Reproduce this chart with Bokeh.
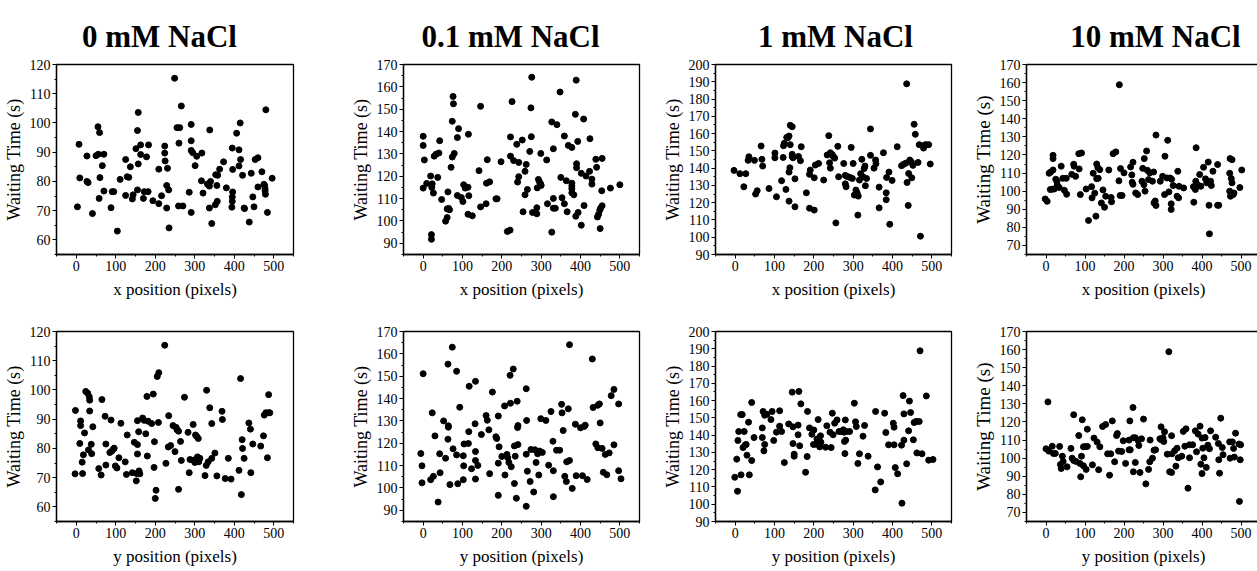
from bokeh.plotting import figure
from bokeh.layouts import column, row
from bokeh.models import Range1d, SingleIntervalTicker
from bokeh.embed import file_html
from bokeh.resources import INLINE
from bokeh.core.properties import value

titles = ["0 mM NaCl", "0.1 mM NaCl", "1 mM NaCl", "10 mM NaCl"]
y_title = "Waiting Time (s)"
x_titles = ["x position (pixels)", "y position (pixels)"]
y_limits = [(55, 120), (85, 170), (90, 200), (65, 170)]
x_limits = (-50, 550)

# ---- 0 mM NaCl, x position
x0_pos = [3, 7, 9, 27, 27, 30, 41, 55, 59, 50,
          56, 60, 58, 66, 70, 70, 88, 91, 95, 104,
          111, 125, 125, 129, 133, 137, 142, 144, 151, 155,
          157, 157, 155, 163, 163, 170, 172, 178, 182, 183,
          194, 209, 209, 216, 224, 224, 225, 229, 229, 231,
          234, 235, 249, 255, 262, 260, 259, 266, 270, 286,
          291, 291, 291, 295, 291, 301, 305, 317, 318, 321,
          332, 337, 337, 338, 340, 343, 352, 353, 357, 356,
          358, 363, 373, 380, 395, 396, 396, 395, 395, 394,
          406, 412, 412, 415, 416, 421, 425, 426, 438, 443,
          447, 450, 453, 460, 460, 470, 475, 477, 478, 478,
          479, 480, 484, 496]
x0_wait = [71.3, 92.7, 81.2, 88.7, 80.0, 79.6, 69, 98.7, 96.7, 88.8,
           89.3, 81.3, 74.2, 85.4, 89.3, 76.7, 71, 76.5, 76.5, 63,
           80.7, 87.5, 75.2, 81.6, 81.4, 85, 74, 75.4, 91.2, 97.4,
           103.6, 86, 77.1, 92.5, 89.2, 74.2, 76.5, 88.4, 76.5, 92.5,
           73.4, 84.2, 72.4, 75.1, 92.1, 89.7, 87, 78.6, 70.9, 84.5,
           77.1, 64.1, 115.3, 98.4, 98.4, 93.1, 71.6, 105.8, 71.6, 76.3,
           99.5, 93.9, 90.6, 89.8, 69.4, 85.4, 88.6, 80.2, 89.7, 76,
           79.1, 78.4, 70.9, 97.6, 80, 65.6, 72, 82.3, 73.2, 78.6,
           82.1, 84.2, 86.7, 77.8, 91.4, 84.1, 76.4, 74.7, 73.2, 71.2,
           96.5, 90.8, 85.3, 100, 87.5, 82.1, 70.9, 70.7, 66.1, 82.8,
           74.7, 71.3, 87.5, 88.1, 78.1, 83.3, 79, 78.6, 77.5, 76.8,
           75.6, 104.5, 69.4, 81.1]

# ---- 0.1 mM NaCl, x position
x01_pos = [0, 0, 3, 0, 9, 19, 22, 23, 26, 21,
           21, 28, 33, 40, 37, 42, 47, 61, 57, 61,
           63, 65, 67, 71, 74, 76, 77, 74, 79, 87,
           87, 90, 97, 101, 103, 107, 115, 114, 116, 114,
           125, 142, 146, 146, 160, 163, 161, 169, 185, 188,
           198, 214, 221, 222, 222, 226, 230, 238, 240, 243,
           243, 252, 254, 259, 259, 262, 265, 271, 274, 275,
           276, 278, 289, 289, 290, 293, 296, 299, 299, 300,
           314, 316, 327, 327, 331, 331, 331, 336, 340, 348,
           350, 353, 359, 359, 364, 366, 369, 378, 378, 378,
           378, 378, 383, 387, 389, 390, 390, 393, 388, 394,
           402, 402, 408, 409, 414, 423, 424, 429, 429, 439,
           441, 443, 446, 449, 451, 455, 450, 454, 455, 476,
           500]
x01_wait = [137.9, 133.8, 127.3, 114.7, 116.8, 120.1, 115, 116.6, 112.5, 93.9,
            91.8, 129, 129.9, 130.4, 119.5, 135.9, 109.6, 105.4, 99.9, 101.5,
            113, 105.6, 105, 124, 128.6, 155.7, 152.4, 144.6, 130.2, 111.4,
            137.3, 141.3, 110.5, 108.7, 116.2, 114.7, 138.8, 115.1, 111.3, 103,
            102.3, 122.5, 151.3, 106.3, 107.7, 127.4, 116.9, 117.5, 109.9, 109.9,
            126.5, 95.3, 95.9, 137.6, 129, 153.4, 127, 134.3, 117.4, 119.8,
            126.2, 136.2, 104.1, 122.2, 111.7, 125.3, 114.1, 131.1, 150.6, 137.7,
            164.3, 103.8, 103.2, 105.9, 114.8, 118.6, 117.4, 130.2, 116.5, 115.9,
            127.3, 107.7, 144.3, 95, 132.3, 110.1, 105.7, 105.7, 143.1, 157.7,
            119.5, 110.4, 138, 107.7, 118, 104.1, 133.8, 132.9, 116.9, 115.6,
            114.4, 112.6, 111.7, 147.7, 163, 125.6, 123.8, 135.6, 102.1, 103.8,
            98.1, 121.3, 145.6, 106.9, 120.1, 122.2, 136.8, 118.7, 116.5, 127.6,
            124, 101.8, 103, 104.8, 105.7, 106.8, 96.6, 113.5, 128, 114.7,
            116.2]

# ---- 1 mM NaCl, x position
x1_pos = [-3, 12, 27, 22, 33, 35, 49, 52, 56, 66,
          68, 70, 86, 101, 101, 105, 118, 122, 123, 125,
          129, 131, 134, 137, 137, 139, 137, 140, 140, 145,
          145, 145, 147, 152, 152, 161, 166, 168, 181, 189,
          191, 189, 201, 201, 204, 212, 225, 234, 238, 240,
          242, 242, 247, 250, 253, 256, 261, 263, 276, 280,
          280, 282, 285, 292, 295, 298, 300, 303, 307, 310,
          313, 312, 316, 319, 322, 325, 328, 330, 331, 334,
          344, 344, 353, 357, 358, 366, 366, 377, 384, 384,
          385, 391, 393, 399, 412, 423, 428, 434, 436, 437,
          441, 440, 444, 448, 449, 452, 455, 458, 465, 468,
          471, 479, 482, 485, 492, 496]
x1_wait = [138.7, 136.8, 136.8, 129.2, 144.5, 146.6, 144.5, 125, 126.9, 152.8,
           145.1, 141.2, 128.2, 148.7, 146, 123.4, 132.7, 146.2, 153, 154.4,
           127.7, 157.8, 157.6, 158.6, 137.7, 140.2, 120.9, 153.6, 164.8, 164,
           148, 146.6, 146, 133.8, 117.6, 146.8, 144.3, 152.4, 125.7, 136.4,
           138.9, 116.8, 134.4, 115.7, 141.8, 142.7, 133.1, 147.6, 158.8, 143.1,
           140, 148.9, 147.8, 146.6, 145.8, 108.3, 152.6, 135, 142.7, 135.8,
           130.9, 129.2, 135.2, 134.6, 152, 134, 142.7, 124.4, 127.3, 125.7,
           123.8, 112.8, 133.1, 136.8, 145.1, 135, 139.8, 141.2, 129.8, 134,
           162.7, 147.4, 140, 144.7, 142.6, 129, 117, 148.9, 125.7, 121.7,
           134.6, 137.7, 107.5, 132.9, 152.4, 141.4, 142.2, 142.9, 188.8, 131.7,
           136.9, 118.4, 144.7, 143.5, 134.4, 141.6, 165.4, 159.6, 143.3, 153.6,
           100.6, 151.6, 153.4, 153.6, 153.6, 142.4]

# ---- 10 mM NaCl, x position
x10_pos = [-2, 3, 8, 12, 18, 11, 16, 18, 18, 21,
           25, 28, 29, 34, 39, 43, 47, 52, 53, 66,
           71, 72, 76, 84, 91, 85, 88, 103, 109, 117,
           118, 121, 125, 128, 130, 130, 133, 134, 138, 142,
           146, 150, 153, 161, 167, 168, 172, 179, 187, 188,
           191, 190, 195, 200, 217, 220, 223, 221, 223, 230,
           235, 246, 248, 252, 251, 254, 258, 260, 263, 266,
           273, 276, 277, 280, 282, 282, 293, 299, 305, 304,
           310, 312, 315, 318, 322, 321, 321, 326, 338, 336,
           340, 341, 353, 378, 379, 384, 383, 385, 389, 394,
           397, 404, 409, 412, 416, 418, 419, 422, 424, 428,
           440, 440, 443, 472, 477, 471, 471, 473, 475, 477,
           480, 482, 497, 502]
x10_wait = [95.7, 94.4, 109.9, 110.6, 111.7, 100.9, 101.1, 119.8, 118, 101.2,
            106.6, 105.3, 103.3, 102, 113.8, 107.1, 100.5, 107.1, 98.3, 109.3,
            114.9, 113.8, 108.2, 120.7, 121.1, 112.3, 98.1, 101.2, 83.8, 102.5,
            96.3, 109.9, 98.9, 86.2, 115, 106.9, 113, 107.1, 111.9, 93.5,
            100.7, 91.1, 97.2, 111.7, 96.5, 94.1, 120.7, 121.7, 105.7, 158.8,
            112.5, 97.6, 97.6, 110.1, 113.4, 109, 116, 104.9, 103.8, 99,
            98.1, 105.5, 112.6, 118, 103.6, 100, 122.2, 111.5, 106.4, 110.1,
            105.5, 110.6, 93.5, 94.6, 92.1, 131, 105.5, 108.2, 119.3, 98.1,
            107.3, 128.1, 99.6, 107.3, 106.6, 93, 89.9, 103.1, 111, 97.2,
            96.3, 102.7, 101.8, 102.5, 93.9, 105.5, 100.9, 124, 103.5, 109.2,
            102.7, 113.2, 106.8, 104.6, 116.1, 92.2, 76.4, 105.5, 103.1, 111,
            114.7, 92.2, 92.2, 118, 117.4, 109.9, 100, 97.2, 107, 104.6,
            98.1, 99, 102, 111.7]

# ---- 0 mM NaCl, y position
y0_pos = [-3, -2, 9, 11, 11, 15, 16, 18, 21, 24,
          29, 31, 33, 34, 34, 38, 39, 42, 57, 63,
          65, 73, 75, 75, 88, 85, 90, 94, 96, 99,
          103, 108, 113, 124, 129, 127, 142, 147, 152, 153,
          155, 158, 155, 155, 159, 161, 168, 172, 176, 179,
          180, 182, 191, 195, 198, 197, 200, 202, 205, 209,
          208, 224, 227, 234, 233, 239, 245, 250, 253, 255,
          259, 259, 264, 266, 274, 283, 286, 288, 296, 297,
          300, 302, 305, 306, 307, 309, 310, 313, 326, 329,
          330, 334, 338, 343, 343, 351, 356, 369, 370, 377,
          385, 392, 412, 416, 418, 420, 421, 425, 437, 441,
          442, 447, 467, 474, 476, 480, 484, 487, 487, 490]
y0_wait = [71.3, 93, 81.7, 89.4, 87.8, 75.3, 71.4, 77.8, 85.3, 99.5,
           98.9, 79.5, 97.7, 96.5, 92.8, 81.4, 78.2, 87.4, 73.1, 70.9,
           96.7, 91, 81.5, 74.3, 89.7, 78.6, 79.1, 79.8, 80.1, 74,
           73.3, 76.8, 88.6, 75.4, 84.6, 71.1, 71.7, 82.1, 68.9, 71.4,
           81.3, 85.7, 78.1, 89.5, 72.3, 71.3, 90.4, 89.6, 85, 97.8,
           77.4, 89.3, 88.5, 98.6, 82.3, 73.5, 62.9, 65.7, 104.6, 105.9,
           88.9, 115.3, 74.9, 91.2, 80.5, 81, 87.8, 78.9, 87.2, 86.4,
           85.9, 66, 82.4, 75.9, 97.5, 85.5, 71.7, 76.2, 88.2, 76,
           75.2, 84.6, 84.1, 76.7, 77.1, 83.4, 75.4, 76.6, 70.7, 74.2,
           99.9, 75.4, 93.9, 88.5, 76.6, 78.4, 70.6, 92.7, 89.9, 69.7,
           76.6, 69.5, 72.5, 103.9, 64.2, 83, 80, 76.6, 88.7, 86.6,
           71.7, 81.5, 80.8, 84.3, 91.4, 92.2, 76.8, 98.4, 92.2, 92.2]

# ---- 0.1 mM NaCl, y position
y01_pos = [-6, -3, -3, 0, 19, 23, 26, 30, 38, 43,
           42, 52, 57, 63, 64, 64, 63, 68, 74, 76,
           85, 85, 88, 93, 102, 103, 102, 104, 115, 117,
           116, 123, 133, 132, 133, 133, 133, 139, 148, 160,
           163, 167, 169, 176, 185, 187, 191, 193, 191, 191,
           200, 207, 208, 213, 215, 218, 221, 222, 224, 229,
           232, 232, 234, 237, 240, 241, 239, 241, 262, 263,
           262, 265, 262, 272, 274, 281, 284, 287, 291, 294,
           296, 299, 303, 312, 319, 325, 330, 331, 331, 339,
           347, 352, 353, 356, 360, 364, 365, 369, 372, 372,
           379, 387, 389, 400, 405, 409, 412, 417, 430, 432,
           439, 444, 448, 450, 455, 458, 463, 467, 473, 478,
           485, 485, 497, 497, 503, 444]
y01_wait = [115.4, 109.9, 102.3, 151.1, 103.7, 133.6, 105.2, 123.3, 93.7, 106.8,
            115.3, 130, 113.3, 155.4, 127.8, 127.2, 121.8, 101.5, 163, 117.5,
            152.2, 114.8, 101.9, 136.1, 114.4, 109.9, 103.7, 119.7, 119.9, 145.5,
            125.2, 108.6, 147.7, 128.7, 116.3, 112.3, 104, 110.1, 123.9, 132.4,
            130.3, 126, 106.4, 142.9, 122.9, 122.1, 132.2, 118.4, 111.1, 96.7,
            114.1, 136.7, 105.8, 115, 113.5, 111.4, 150.4, 137.9, 109.5, 153.2,
            118.8, 102, 114.2, 95.4, 127, 127.9, 138.8, 119.4, 144.4, 130.2,
            115.1, 107.5, 91.8, 102.9, 117.2, 98.2, 117.1, 111.4, 115.3, 105.8,
            116.5, 131, 115.9, 130.2, 110.2, 134.2, 120.9, 107.7, 96.1, 116.9,
            116.9, 137.4, 133.6, 125.7, 105.2, 102.9, 111.7, 135.4, 164.1, 112.3,
            99.8, 128.5, 105.5, 126.9, 105.5, 127.5, 128.1, 103.8, 157.7, 136,
            119.7, 118, 137.6, 129.1, 117.7, 107, 115, 105.9, 115.7, 141.3,
            144.1, 119.3, 137.6, 107.7, 104.1, 137]

# ---- 1 mM NaCl, y position
y1_pos = [-1, 4, 6, 7, 9, 14, 15, 18, 20, 23,
          25, 28, 30, 34, 36, 42, 42, 48, 69, 69,
          71, 73, 75, 75, 81, 91, 94, 98, 105, 113,
          113, 118, 125, 136, 145, 147, 147, 150, 150, 160,
          160, 162, 164, 167, 179, 184, 183, 189, 195, 199,
          200, 205, 208, 211, 212, 215, 217, 218, 230, 233,
          241, 244, 247, 249, 253, 259, 264, 270, 275, 277,
          278, 279, 280, 281, 283, 291, 303, 306, 308, 312,
          316, 325, 329, 338, 357, 356, 362, 370, 380, 383,
          390, 402, 404, 404, 407, 413, 423, 424, 427, 429,
          429, 436, 441, 443, 446, 453, 455, 460, 462, 468,
          470, 475, 486, 492, 503]
y1_wait = [115.6, 126.1, 107.5, 136.9, 142.1, 151.9, 117, 151.9, 132.8, 142.1,
           134.2, 134.6, 128.4, 147.5, 117, 158.9, 125.3, 138.6, 144.2, 138.6,
           153.7, 130.9, 134.6, 151.5, 152.1, 149, 153.7, 136.9, 141.7, 154.1,
           145.2, 142.1, 124.1, 146.5, 164.9, 144.8, 135.1, 129, 127.8, 140.2,
           145.8, 165.3, 133.8, 158.1, 118.5, 153.7, 127.6, 144.2, 140.5, 134.6,
           143, 134.7, 137.8, 149, 136.3, 133.2, 139.6, 135.9, 133, 145.4,
           141.7, 132.8, 152.7, 140.2, 146.9, 148.8, 142.1, 142.1, 143.1, 141.7,
           136.3, 129.3, 148.8, 137.1, 142.1, 142.1, 158.5, 147.7, 145, 123.6,
           129.2, 139.4, 145.6, 127.8, 153.7, 108.3, 121.6, 112.9, 152.7, 141.5,
           134.4, 146.9, 144.6, 134.4, 121.2, 117.6, 134.2, 100.6, 162.9, 137.1,
           152.3, 123.4, 142.5, 159.7, 153.1, 137.3, 147.3, 147.9, 129.7, 147.9,
           188.8, 129.2, 162.7, 125.5, 125.9]

# ---- 10 mM NaCl, y position
y10_pos = [0, 5, 7, 16, 19, 24, 35, 37, 39, 42,
           44, 54, 64, 67, 71, 71, 77, 84, 87, 89,
           91, 93, 96, 96, 100, 103, 106, 106, 119, 123,
           131, 135, 138, 145, 153, 158, 163, 166, 170, 176,
           181, 183, 186, 194, 198, 204, 213, 213, 215, 216,
           223, 224, 224, 229, 229, 236, 238, 241, 245, 250,
           256, 263, 266, 267, 273, 277, 281, 292, 295, 296,
           300, 304, 302, 311, 315, 317, 322, 322, 323, 330,
           333, 336, 339, 348, 352, 356, 359, 364, 368, 368,
           376, 383, 386, 390, 395, 397, 400, 400, 402, 405,
           408, 411, 415, 419, 422, 435, 442, 443, 445, 448,
           452, 454, 471, 472, 478, 481, 483, 486, 495, 498,
           499, 496]
y10_wait = [105.2, 131.1, 103.9, 106.6, 102.6, 102.6, 106.5, 96.5, 94.3, 101.1,
            98.2, 95.2, 105.4, 100, 124, 98.7, 98.2, 112.5, 97.1, 89.7,
            101.1, 121.2, 95.8, 106.3, 106.3, 93.8, 106.5, 116, 96.3, 111.1,
            108.9, 93.6, 106.3, 117.5, 118.6, 102.4, 90.6, 102.4, 120.6, 98,
            112.5, 113.6, 103.9, 103.7, 109.6, 97.1, 104.6, 110, 120.6, 104.6,
            128, 111.3, 92.5, 97.6, 111.3, 109.8, 107, 92.1, 110.7, 121.6,
            85.8, 93.8, 98, 110, 100, 104.4, 104.6, 110.7, 117.3, 110.1,
            111.3, 114.6, 109.2, 102.2, 158.8, 92.5, 92.1, 112.4, 102.4, 104.1,
            95.6, 105.5, 100.2, 101.1, 114.8, 106.6, 116.2, 83.4, 100.2, 107.4,
            107.4, 115.1, 103.5, 113.3, 117.7, 96.7, 91.5, 111.1, 105.5, 100.2,
            111.4, 94.9, 107.2, 105.2, 115.1, 111.6, 108.1, 99.1, 91.7, 122.1,
            105.9, 101.9, 109, 100, 109, 105.4, 100.6, 113.8, 107.8, 99.1,
            107.4, 76.1]

top_series = [(x0_pos, x0_wait), (x01_pos, x01_wait), (x1_pos, x1_wait), (x10_pos, x10_wait)]
bottom_series = [(y0_pos, y0_wait), (y01_pos, y01_wait), (y1_pos, y1_wait), (y10_pos, y10_wait)]

# layout geometry (pixels)
col_geom = [dict(left=50, frame=237, right=10, ylab="18px"),
            dict(left=100, frame=236, right=10, ylab="18px"),
            dict(left=66, frame=236, right=10, ylab="18px"),
            dict(left=65, frame=234, right=1, ylab="19px")]
top_geom = [dict(top=10, frame=190, bottom=46), dict(top=10, frame=190, bottom=46),
            dict(top=6, frame=190, bottom=50), dict(top=6, frame=190, bottom=50)]
bot_geom = [dict(top=27, frame=190, bottom=50), dict(top=30, frame=190, bottom=47),
            dict(top=30, frame=190, bottom=47), dict(top=30, frame=190, bottom=47)]
TOTAL_W = 1255
TITLE_H = 54
TITLE_BASE = 18
title_centers = [159, 510, 835, 1155]

SERIF = "Liberation Serif"


def make_panel(xs, ys, cg, rg, ylim, xlab):
    p = figure(frame_width=cg["frame"], frame_height=rg["frame"],
               min_border_left=cg["left"], min_border_right=cg["right"],
               min_border_top=rg["top"], min_border_bottom=rg["bottom"],
               x_range=Range1d(*x_limits), y_range=Range1d(*ylim),
               toolbar_location=None, tools="", output_backend="svg",
               background_fill_color="white", border_fill_color="white")
    p.grid.visible = False
    p.outline_line_color = "black"
    p.outline_line_width = 1.3
    p.scatter(xs, ys, size=6, color="black")
    p.xaxis.ticker = SingleIntervalTicker(interval=100, num_minor_ticks=2)
    p.yaxis.ticker = SingleIntervalTicker(interval=10, num_minor_ticks=2)
    p.xaxis.axis_label = xlab
    p.yaxis.axis_label = y_title
    for ax in p.axis:
        ax.axis_line_color = "black"
        ax.axis_line_width = 1.3
        ax.major_tick_line_color = "black"
        ax.minor_tick_line_color = "black"
        ax.major_tick_out = 4
        ax.major_tick_in = 0
        ax.minor_tick_out = 2
        ax.minor_tick_in = 0
        ax.major_label_text_font = SERIF
        ax.major_label_text_font_size = "14px"
        ax.major_label_text_color = "black"
        ax.major_label_standoff = 2
        ax.axis_label_text_font = SERIF
        ax.axis_label_text_font_style = "normal"
        ax.axis_label_text_color = "black"
        ax.axis_label_standoff = 3
    p.xaxis.axis_label_standoff = 6
    p.xaxis.axis_label_text_font_size = "17px"
    p.yaxis.axis_label_text_font_size = cg["ylab"]
    return p


tfig = figure(width=TOTAL_W, height=TITLE_H, x_range=Range1d(0, TOTAL_W), y_range=Range1d(0, TITLE_H),
              x_axis_type=None, y_axis_type=None, min_border=0,
              toolbar_location=None, tools="", output_backend="svg")
tfig.grid.visible = False
tfig.outline_line_color = None
tfig.text(x=title_centers, y=[TITLE_BASE] * 4, text=titles,
          text_font=value(SERIF), text_font_style="bold", text_font_size="31px",
          text_align="center", text_baseline="alphabetic", text_color="black")

top_row = [make_panel(s[0], s[1], col_geom[i], top_geom[i], y_limits[i], x_titles[0])
           for i, s in enumerate(top_series)]
bot_row = [make_panel(s[0], s[1], col_geom[i], bot_geom[i], y_limits[i], x_titles[1])
           for i, s in enumerate(bottom_series)]

layout = column(tfig, row(*top_row), row(*bot_row))

open("out.html", "w").write(file_html(layout, INLINE))
